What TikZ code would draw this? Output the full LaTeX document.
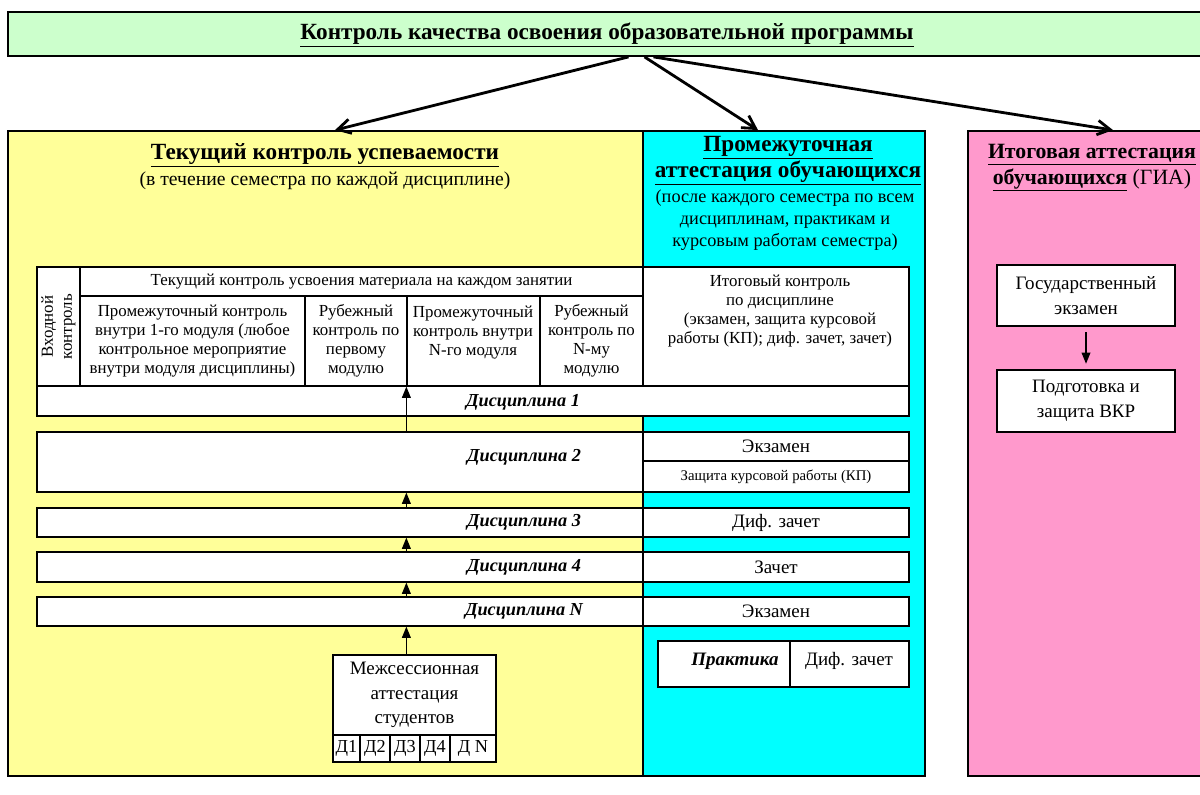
\documentclass[tikz,border=0pt]{standalone}
\usepackage{fontspec}
\setmainfont{Liberation Serif}
\usepackage{tikz}
\usetikzlibrary{arrows.meta,positioning,fit,calc}

\definecolor{titlegreen}{RGB}{204,255,204}
\definecolor{curyellow}{RGB}{255,255,153}
\definecolor{midcyan}{RGB}{0,255,255}
\definecolor{finpink}{RGB}{255,153,204}

\begin{document}
\begin{tikzpicture}[x=0.025cm, y=-0.025cm,
  panel/.style={draw, line width=1.3pt, inner sep=0pt},
  cell/.style={draw, fill=white, line width=0.9pt, inner sep=0pt},
  txt/.style={align=center, inner sep=0pt, font=\fontsize{12}{13.5}\selectfont},
  lbl/.style={align=center, inner sep=0pt, font=\fontsize{13.5}{17.5}\selectfont},
  head/.style={font=\fontsize{16.5}{18.5}\selectfont\bfseries, align=center},
  note/.style={font=\fontsize{13}{15.5}\selectfont, align=center},
  disc/.style={font=\fontsize{13}{15}\selectfont\bfseries\itshape},
  big/.style={-{Straight Barb[length=3.2mm,width=3.6mm]}, line width=2pt},
  up/.style={-{Triangle[length=2.8mm,width=2.2mm]}, line width=0.9pt}]
\useasboundingbox (0,0) rectangle (1200,794);
\fill[white] (0,0) rectangle (1200,794);

% top
\node[panel, fill=titlegreen, fit={(8,12)(1215,56)}] (ttl) {};
\node[head] (ttlt) at (607,35) {\underline{Контроль качества освоения образовательной программы}};

% three parts
\node[panel, fill=curyellow, fit={(8,131)(643,776)}] (cur) {};
\node[panel, fill=midcyan, fit={(643,131)(925,776)}] (mid) {};
\node[panel, fill=finpink, fit={(968,131)(1215,776)}] (fin) {};
\draw[big] ($(ttl.south)+(17,0)$) -- ($(cur.north)+(9.5,0)$);
\draw[big] ($(ttl.south)+(33,0)$) -- ($(mid.north)+(-26,0)$);
\draw[big] ($(ttl.south)+(42,0)$) -- ($(fin.north)+(21.5,0)$);

\node[head] (curh) at (325,155) {\underline{Текущий контроль успеваемости}};
\node[note, font=\fontsize{14}{16}\selectfont] (curn) at (325,181) {(в течение семестра по каждой дисциплине)};
\node[head] (midh) at (788,161) {\underline{Промежуточная}\\\underline{аттестация обучающихся}};
\node[note] (midn) at (785,220) {(после каждого семестра по всем\\дисциплинам, практикам и\\курсовым работам семестра)};
\node[head, font=\fontsize{15.5}{18}\selectfont\bfseries] (finh) at (1092,168) {\underline{Итоговая аттестация}\\\underline{обучающихся} {\mdseries (ГИА)}};

% table head
\node[cell, fit={(37,267)(80,386)}] (vh) {};
\node[txt, rotate=90] (vht) at (vh) {Входной\\контроль};
\node[cell, fit={(80,267)(643,296)}] (tk) {};
\node[txt] (tkt) at (tk) {Текущий контроль усвоения материала на каждом занятии};
\node[cell, fit={(80,296)(305,386)}] (p1) {};
\node[txt] (p1t) at (p1) {Промежуточный контроль\\внутри 1-го модуля (любое\\контрольное мероприятие\\внутри модуля дисциплины)};
\node[cell, fit={(305,296)(407,386)}] (r1) {};
\node[txt] (r1t) at (r1) {Рубежный\\контроль по\\первому\\модулю};
\node[cell, fit={(407,296)(540,386)}] (pN) {};
\node[txt] (pNt) at (473,333) {Промежуточный\\контроль внутри\\N-го модуля};
\node[cell, fit={(540,296)(643,386)}] (rN) {};
\node[txt] (rNt) at (rN) {Рубежный\\контроль по\\N-му\\модулю};
\node[cell, fit={(643,267)(909,386)}] (ik) {};
\node[txt] (ikt) at (780,311) {Итоговый контроль\\по дисциплине\\(экзамен, защита курсовой\\работы (КП); диф. зачет, зачет)};

% disciplines
\node[cell, fit={(37,386)(909,416)}] (d1) {};
\node[disc] (d1t) at (523,402) {Дисциплина 1};
\node[cell, fit={(37,432)(643,492)}] (d2) {};
\node[disc] (d2t) at (524,457) {Дисциплина 2};
\node[cell, fit={(643,432)(909,461)}] (ex2) {};
\node[lbl] (ex2t) at (ex2) {Экзамен};
\node[cell, fit={(643,461)(909,492)}] (kp2) {};
\node[txt, font=\fontsize{10.5}{12}\selectfont] (kp2t) at (kp2) {Защита курсовой работы (КП)};
\node[cell, fit={(37,508)(643,537)}] (d3) {};
\node[disc] (d3t) at (524,522) {Дисциплина 3};
\node[cell, fit={(643,508)(909,537)}] (df3) {};
\node[lbl] (df3t) at (df3) {Диф. зачет};
\node[cell, fit={(37,552)(643,582)}] (d4) {};
\node[disc] (d4t) at (524,567) {Дисциплина 4};
\node[cell, fit={(643,552)(909,582)}] (z4) {};
\node[lbl] (z4t) at (z4) {Зачет};
\node[cell, fit={(37,597)(643,626)}] (dn) {};
\node[disc] (dnt) at (524,611) {Дисциплина N};
\node[cell, fit={(643,597)(909,626)}] (exn) {};
\node[lbl] (exnt) at (exn) {Экзамен};

% practice
\node[cell, fit={(658,641)(790,687)}] (pr) {};
\node[lbl, font=\fontsize{13.5}{16}\selectfont\bfseries\itshape] (prt) at (735,661) {Практика};
\node[cell, fit={(790,641)(909,687)}] (prz) {};
\node[lbl] (przt) at (849,661) {Диф. зачет};

% intersession
\node[cell, fit={(333,655)(496,735)}] (ms) {};
\node[lbl] (mst) at (ms) {Межсессионная\\аттестация\\студентов};
\foreach \n/\a/\b/\t in {1/333/360/Д1, 2/360/390/Д2, 3/390/420/Д3, 4/420/450/Д4, 5/450/496/Д N}{
  \node[cell, fit={(\a,735)(\b,762)}] (m\n) {};
  \node[lbl, font=\fontsize{13}{15}\selectfont] (m\n t) at (m\n) {\t};
}

\draw[up] (d2.north -| pN.south west) -- (pN.south west);
\draw[up] (d3.north -| pN.south west) -- (d2.south -| pN.south west);
\draw[up] (d4.north -| pN.south west) -- (d3.south -| pN.south west);
\draw[up] (dn.north -| pN.south west) -- (d4.south -| pN.south west);
\draw[up] (ms.north -| pN.south west) -- (dn.south -| pN.south west);

% final attestation
\node[cell, fit={(997,265)(1175,326)}] (ge) {};
\node[lbl] (get) at (ge) {Государственный\\экзамен};
\node[cell, fit={(997,370)(1175,432)}] (vkr) {};
\node[lbl] (vkrt) at (vkr) {Подготовка и\\защита ВКР};
\draw[up, shorten <=4pt, shorten >=4pt] (ge) -- (vkr);
\end{tikzpicture}
\end{document}
